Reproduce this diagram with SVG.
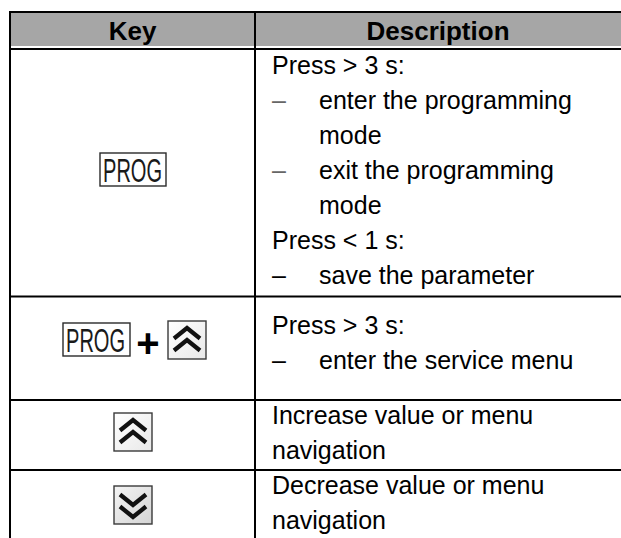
<svg xmlns="http://www.w3.org/2000/svg" width="621" height="538" viewBox="0 0 621 538">
<style>
.t{font-family:"Liberation Sans",Arial,sans-serif;font-size:25px;fill:#000}
.h{font-family:"Liberation Sans",Arial,sans-serif;font-size:26px;font-weight:bold;fill:#000;text-anchor:middle}
.d1{fill:#666}
.prog{font-family:"Liberation Sans",Arial,sans-serif;font-size:34px;fill:#1a1a1a}
.pbox{fill:#fff;stroke:#2a2a2a;stroke-width:1.4}
.abox{stroke:#3a3a3a;stroke-width:1.4}
.chev{fill:none;stroke:#111;stroke-width:4.2;stroke-linejoin:miter;stroke-linecap:butt}
.line{stroke:#000;stroke-width:2;fill:none}
</style>
<defs>
<linearGradient id="gu" x1="0" y1="0" x2="1" y2="1">
<stop offset="0" stop-color="#ffffff"/><stop offset="1" stop-color="#e8e8e8"/>
</linearGradient>
<linearGradient id="gd" x1="0" y1="0" x2="1" y2="1">
<stop offset="0" stop-color="#f4f4f4"/><stop offset="1" stop-color="#d4d4d4"/>
</linearGradient>
<g id="up">
<rect class="abox" x="0" y="0" width="38" height="38" fill="url(#gu)"/>
<path class="chev" d="M6,17.5 L19,7 L32,17.5 M6,29.5 L19,19 L32,29.5"/>
</g>
<g id="down">
<rect class="abox" x="0" y="0" width="38" height="38" fill="url(#gd)"/>
<path class="chev" d="M6,8.5 L19,19 L32,8.5 M6,20.5 L19,31 L32,20.5"/>
</g>
</defs>

<g id="header">
<rect x="11" y="13" width="610" height="33" fill="#a6a6a6"/>
<text class="h" x="132.5" y="40">Key</text>
<text class="h" x="438" y="40">Description</text>
</g>

<g id="grid">
<line class="line" x1="10" y1="12" x2="621" y2="12"/>
<line class="line" x1="10" y1="49" x2="621" y2="49"/>
<line class="line" x1="10" y1="296.5" x2="621" y2="296.5"/>
<line class="line" x1="10" y1="400" x2="621" y2="400"/>
<line class="line" x1="10" y1="470" x2="621" y2="470"/>
<line class="line" x1="10" y1="11" x2="10" y2="538"/>
<line class="line" x1="255" y1="11" x2="255" y2="538"/>
</g>

<g id="row1">
<rect class="pbox" x="100" y="153" width="66" height="33"/>
<text class="prog" transform="translate(103,181.5) scale(0.59,1)">PROG</text>
<text class="t" x="272" y="74">Press &gt; 3 s:</text>
<text class="t d1" x="272" y="109">–</text>
<text class="t" x="319" y="109">enter the programming</text>
<text class="t" x="319" y="144">mode</text>
<text class="t d1" x="272" y="179">–</text>
<text class="t" x="319" y="179">exit the programming</text>
<text class="t" x="319" y="214">mode</text>
<text class="t" x="272" y="249">Press &lt; 1 s:</text>
<text class="t" x="272" y="284">–</text>
<text class="t" x="319" y="284">save the parameter</text>
</g>

<g id="row2">
<rect class="pbox" x="63" y="323" width="67" height="33"/>
<text class="prog" transform="translate(66,351.5) scale(0.59,1)">PROG</text>
<text x="148" y="357" font-family="Liberation Sans,Arial,sans-serif" font-size="40" font-weight="bold" text-anchor="middle">+</text>
<use href="#up" x="168" y="321"/>
<text class="t" x="272" y="334">Press &gt; 3 s:</text>
<text class="t" x="272" y="369">–</text>
<text class="t" x="319" y="369">enter the service menu</text>
</g>

<g id="row3">
<use href="#up" x="114" y="413"/>
<text class="t" x="272" y="424">Increase value or menu</text>
<text class="t" x="272" y="459">navigation</text>
</g>

<g id="row4">
<use href="#down" x="114" y="486"/>
<text class="t" x="272" y="494">Decrease value or menu</text>
<text class="t" x="272" y="529">navigation</text>
</g>
</svg>
